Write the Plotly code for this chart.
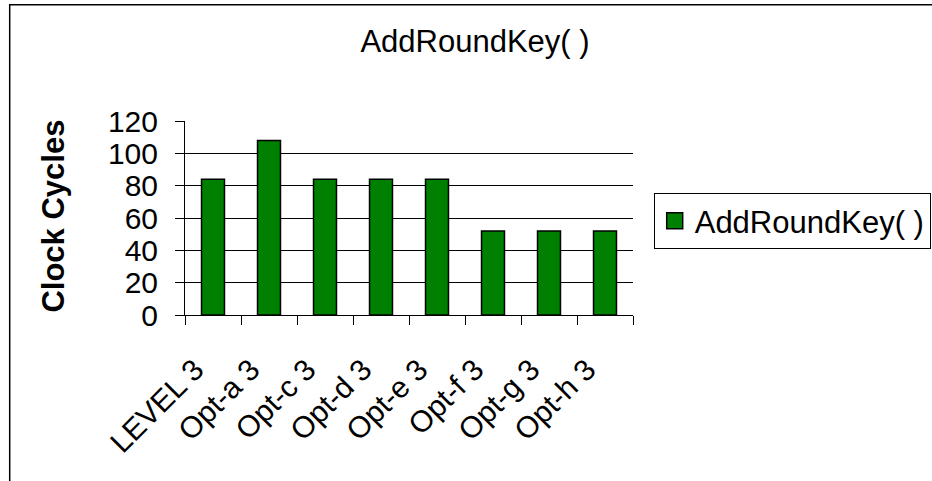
import plotly.graph_objects as go

categories = ["LEVEL 3", "Opt-a 3", "Opt-c 3", "Opt-d 3", "Opt-e 3", "Opt-f 3", "Opt-g 3", "Opt-h 3"]
cycles = [84, 108, 84, 84, 84, 52, 52, 52]
series_name = "AddRoundKey( )"
chart_title = "AddRoundKey( )"
y_title = "Clock Cycles"
y_ticks = [0, 20, 40, 60, 80, 100, 120]

W, H = 932, 481
L, R = 185.3, 633.3
T, B = 120.7, 315.5
pw, ph = R - L, B - T

def px_x(v):
    return (v - L) / pw

def px_y(v):
    return (B - v) / ph

FONT = "Liberation Sans, Arial, sans-serif"
GREEN = "#008000"

fig = go.Figure()
fig.add_trace(go.Bar(
    x=categories, y=cycles, name=series_name,
    marker=dict(color=GREEN, line=dict(color="#000000", width=1.5)),
    showlegend=False,
))
# legend entry (no data points) with a larger square key
fig.add_trace(go.Scatter(
    x=[None], y=[None], mode="markers", name=series_name,
    marker=dict(symbol="square", size=16, color=GREEN, line=dict(color="black", width=1.5)),
    showlegend=True, hoverinfo="skip",
))

fig.update_layout(
    width=W, height=H,
    margin=dict(l=L, r=W - R, t=T, b=H - B, autoexpand=False),
    paper_bgcolor="white", plot_bgcolor="white",
    bargap=0.59,
    font=dict(family=FONT, color="black", size=30),
    title=dict(text=chart_title, x=475 / W, xanchor="center",
               y=1 - 41 / H, yanchor="middle",
               font=dict(family=FONT, size=31, color="black")),
    showlegend=True,
    legend=dict(x=px_x(654), y=px_y(193), xanchor="left", yanchor="top",
                bordercolor="black", borderwidth=1, bgcolor="white",
                itemsizing="trace",
                font=dict(family=FONT, size=31, color="black")),
    xaxis=dict(
        type="category", showline=True, linecolor="black", linewidth=1,
        ticks="outside", tickson="boundaries", ticklen=9, tickcolor="black",
        tickangle=-45, tickfont=dict(family=FONT, size=30, color="black"),
        ticklabelstandoff=24, ticklabelshift=-18,
        showgrid=False, zeroline=False,
    ),
    yaxis=dict(
        range=[0, 120], tickvals=y_ticks, showline=True, linecolor="black", linewidth=1,
        ticks="outside", ticklen=9, tickcolor="black", ticklabelstandoff=11,
        tickfont=dict(family=FONT, size=30, color="black"),
        showgrid=True, gridcolor="black", gridwidth=1, zeroline=False,
    ),
    annotations=[dict(
        text="<b>" + y_title + "</b>", textangle=-90,
        xref="paper", yref="paper", x=px_x(54), y=px_y(216),
        xanchor="center", yanchor="middle", showarrow=False,
        font=dict(family=FONT, size=31, color="black"),
    )],
    shapes=[dict(
        type="rect", xref="paper", yref="paper",
        x0=px_x(10), x1=px_x(940), y0=px_y(490), y1=px_y(4),
        line=dict(color="black", width=1.5), fillcolor="rgba(0,0,0,0)", layer="above",
    )],
)

fig.write_html("out.html", config={"displayModeBar": False},
               post_script="document.body.style.margin='0';document.body.style.overflow='hidden';")
